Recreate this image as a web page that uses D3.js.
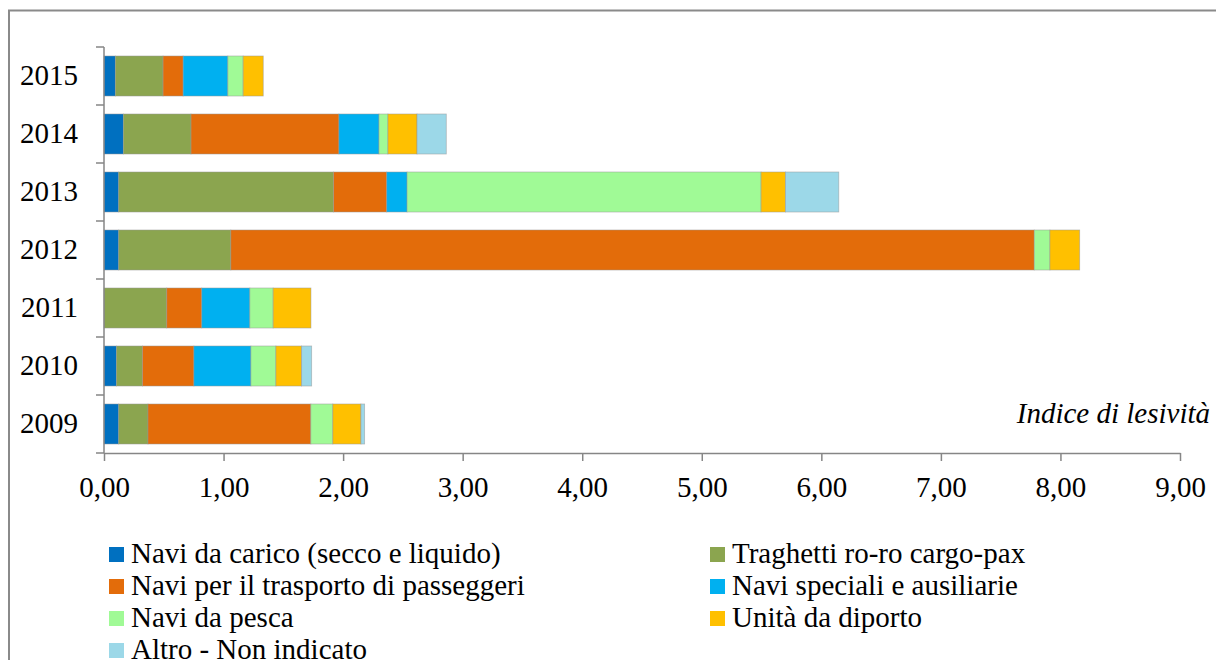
<!DOCTYPE html>
<html><head><meta charset="utf-8">
<script src="https://cdn.jsdelivr.net/npm/d3@7"></script>
<style>html,body{margin:0;padding:0;background:#fff;}svg{display:block;}</style>
</head><body>
<svg id="c" width="1216" height="660"></svg>
<script>
const years = ["2015","2014","2013","2012","2011","2010","2009"];
const seriesNames = ["Navi da carico (secco e liquido)","Traghetti ro-ro cargo-pax","Navi per il trasporto di passeggeri","Navi speciali e ausiliarie","Navi da pesca","Unità da diporto","Altro - Non indicato"];
const seriesColors = ["#0070C0","#8BA54F","#E36C0A","#00B0F0","#A0FA96","#FFC000","#9CD8E8"];
const cargo     = [0.095,0.162,0.123,0.123,0.000,0.104,0.123];
const traghetti = [0.399,0.566,1.798,0.938,0.525,0.218,0.245];
const passeggeri= [0.168,1.237,0.444,6.720,0.293,0.430,1.362];
const speciali  = [0.374,0.335,0.170,0.000,0.402,0.477,0.000];
const pesca     = [0.128,0.075,2.961,0.131,0.195,0.209,0.184];
const diporto   = [0.168,0.243,0.204,0.249,0.316,0.215,0.235];
const altro     = [0.000,0.245,0.446,0.000,0.000,0.084,0.031];
const xTicks = [0,1,2,3,4,5,6,7,8,9];
const axisTitle = "Indice di lesività";

const FONT = "Liberation Serif";
const seriesValues = [cargo,traghetti,passeggeri,speciali,pesca,diporto,altro];
const keys = seriesNames;
const table = years.map((y,i)=>{const o={year:y};keys.forEach((k,j)=>o[k]=seriesValues[j][i]);return o;});

const svg = d3.select("#c").attr("font-family",FONT);
const gridColor = "#868686";
const fs = 29;

// outer frame
svg.append("path").attr("d","M9,660 L9,10.5 L1216,10.5").attr("fill","none").attr("stroke","#8a8a8a").attr("stroke-width",2);

const x = d3.scaleLinear().domain([0,9]).range([104,1180]);
const y = d3.scaleBand().domain(years).range([47,453]).paddingInner(0.31).paddingOuter(0.155);

const stack = d3.stack().keys(keys)(table);

const g = svg.append("g");
stack.forEach((s,si)=>{
  g.selectAll(null).data(s).enter().append("rect")
    .attr("x",d=>x(d[0])).attr("width",d=>Math.max(0,x(d[1])-x(d[0])))
    .attr("y",d=>y(d.data.year)).attr("height",y.bandwidth())
    .attr("fill",seriesColors[si])
    .attr("stroke",d=>(d[1]-d[0])>0?"rgba(150,150,150,0.6)":"none").attr("stroke-width",0.8);
});

// y axis
const ya = svg.append("g").attr("transform","translate(104,0)")
  .call(d3.axisLeft(y).tickSize(0).tickPadding(26));
ya.attr("font-family",FONT);
ya.select(".domain").remove();
ya.selectAll("text").attr("font-size",fs).attr("fill","#000").attr("font-family",FONT);
svg.append("line").attr("x1",104).attr("x2",104).attr("y1",47).attr("y2",453).attr("stroke",gridColor).attr("stroke-width",1.5);
// y tick marks at band boundaries
const bounds = years.map(yy=>y(yy)-y.step()*y.paddingInner()/2).concat([453]);
svg.selectAll(null).data(bounds).enter().append("line")
  .attr("x1",96).attr("x2",104).attr("y1",d=>d).attr("y2",d=>d).attr("stroke",gridColor).attr("stroke-width",1.5);

// x axis
const fmt = d=>d3.format(".2f")(d).replace(".",",");
const xa = svg.append("g").attr("transform","translate(0,453)")
  .call(d3.axisBottom(x).tickValues(xTicks).tickFormat(fmt).tickSize(8).tickPadding(15).tickSizeOuter(0));
xa.attr("font-family",FONT);
xa.select(".domain").attr("stroke",gridColor).attr("stroke-width",1.5);
xa.selectAll(".tick line").attr("stroke",gridColor).attr("stroke-width",1.5);
xa.selectAll("text").attr("font-size",fs).attr("fill","#000").attr("font-family",FONT);

// axis title
svg.append("text").attr("x",1210).attr("y",423).attr("text-anchor","end").attr("font-family",FONT)
  .attr("font-size",fs).attr("font-style","italic").attr("fill","#000").text(axisTitle);

// legend
const lg = svg.append("g");
seriesNames.forEach((n,i)=>{
  const col = i%2, row = Math.floor(i/2);
  const lx = col===0?109:710, base = 563 + row*32;
  lg.append("rect").attr("x",lx).attr("y",base-16).attr("width",15).attr("height",15).attr("fill",seriesColors[i]);
  lg.append("text").attr("x",lx+22).attr("y",base).attr("font-family",FONT).attr("font-size",fs).attr("fill","#000").text(n);
});
</script>
</body></html>
